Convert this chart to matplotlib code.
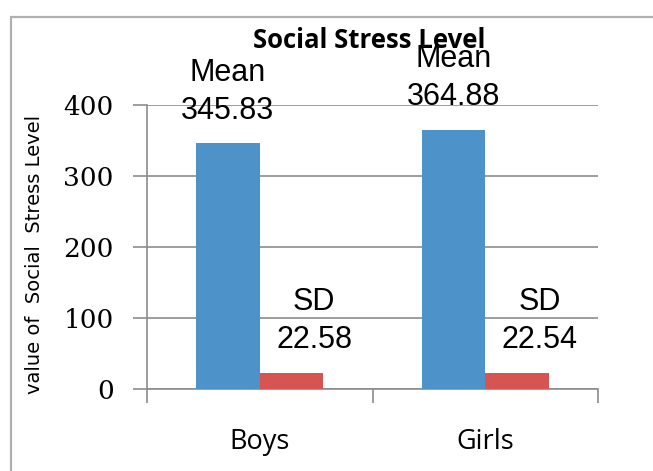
import numpy as np
import matplotlib.pyplot as plt
from matplotlib.patches import Rectangle

groups = ["Boys", "Girls"]
mean_vals = [345.83, 364.88]
sd_vals = [22.58, 22.54]
yticks = [0, 100, 200, 300, 400]

fig = plt.figure(figsize=(6.53, 4.71), dpi=100)
ax = fig.add_axes([147 / 653, 1 - 389 / 471, 451 / 653, 284 / 471])

# outer chart frame (runs off the right and bottom edges)
fig.patches.append(Rectangle((11 / 653, -0.1), 1.2, 1 - 16.5 / 471 + 0.1,
                             transform=fig.transFigure, fill=False,
                             edgecolor="#b0b0b0", linewidth=1.6))

x = np.arange(len(groups))
w = 0.282
blue = "#4e92ca"
red = "#d65551"
ax.bar(x - w / 2, mean_vals, w, color=blue, zorder=3)
ax.bar(x + w / 2, sd_vals, w, color=red, zorder=3)

lab = dict(family="Liberation Sans", fontsize=22, color="#000000",
           ha="center", va="center", textcoords="offset points")
for i in range(len(groups)):
    # value sits ~33px above the bar, the name ~71px above
    ax.annotate(f"{mean_vals[i]:.2f}", (x[i] - w / 2, mean_vals[i]), xytext=(0, 23.5), **lab)
    ax.annotate("Mean", (x[i] - w / 2, mean_vals[i]), xytext=(0, 51), **lab)
    ax.annotate(f"{sd_vals[i]:.2f}", (x[i] + w / 2 + 0.1, sd_vals[i]), xytext=(0, 23.5), **lab)
    ax.annotate("SD", (x[i] + w / 2 + 0.1, sd_vals[i]), xytext=(0, 51), **lab)

ax.set_xlim(-0.5, 1.5)
ax.set_ylim(0, 400)
ax.set_yticks(yticks)
ax.set_yticklabels([str(t) for t in yticks], family="DejaVu Serif", fontsize=19)
ax.set_xticks([-0.5, 0.5, 1.5])
ax.set_xticklabels([])
for i, g in enumerate(groups):
    ax.text(x[i], -0.187, g, transform=ax.get_xaxis_transform(), ha="center",
            va="center", family="Open Sans", fontsize=19.5, color="#000000")
ax.tick_params(axis="x", length=10, color="#8c8c8c", width=1.2)
ax.tick_params(axis="y", length=10, color="#8c8c8c", width=1.2, pad=14)

ax.grid(axis="y", color="#8c8c8c", linewidth=1.2, zorder=0)
for s in ["top", "right"]:
    ax.spines[s].set_visible(False)
for s in ["left", "bottom"]:
    ax.spines[s].set_color("#8c8c8c")
    ax.spines[s].set_linewidth(1.2)

fig.text(369 / 653, 1 - 41 / 471, "Social Stress Level", ha="center", va="center",
         family="Open Sans", fontweight="bold", fontsize=18.5)
fig.text(35 / 653, 1 - 254 / 471, "value of  Social  Stress Level", rotation=90,
         ha="center", va="center", family="DejaVu Sans", fontsize=14)

fig.savefig("out.png", dpi=100)
